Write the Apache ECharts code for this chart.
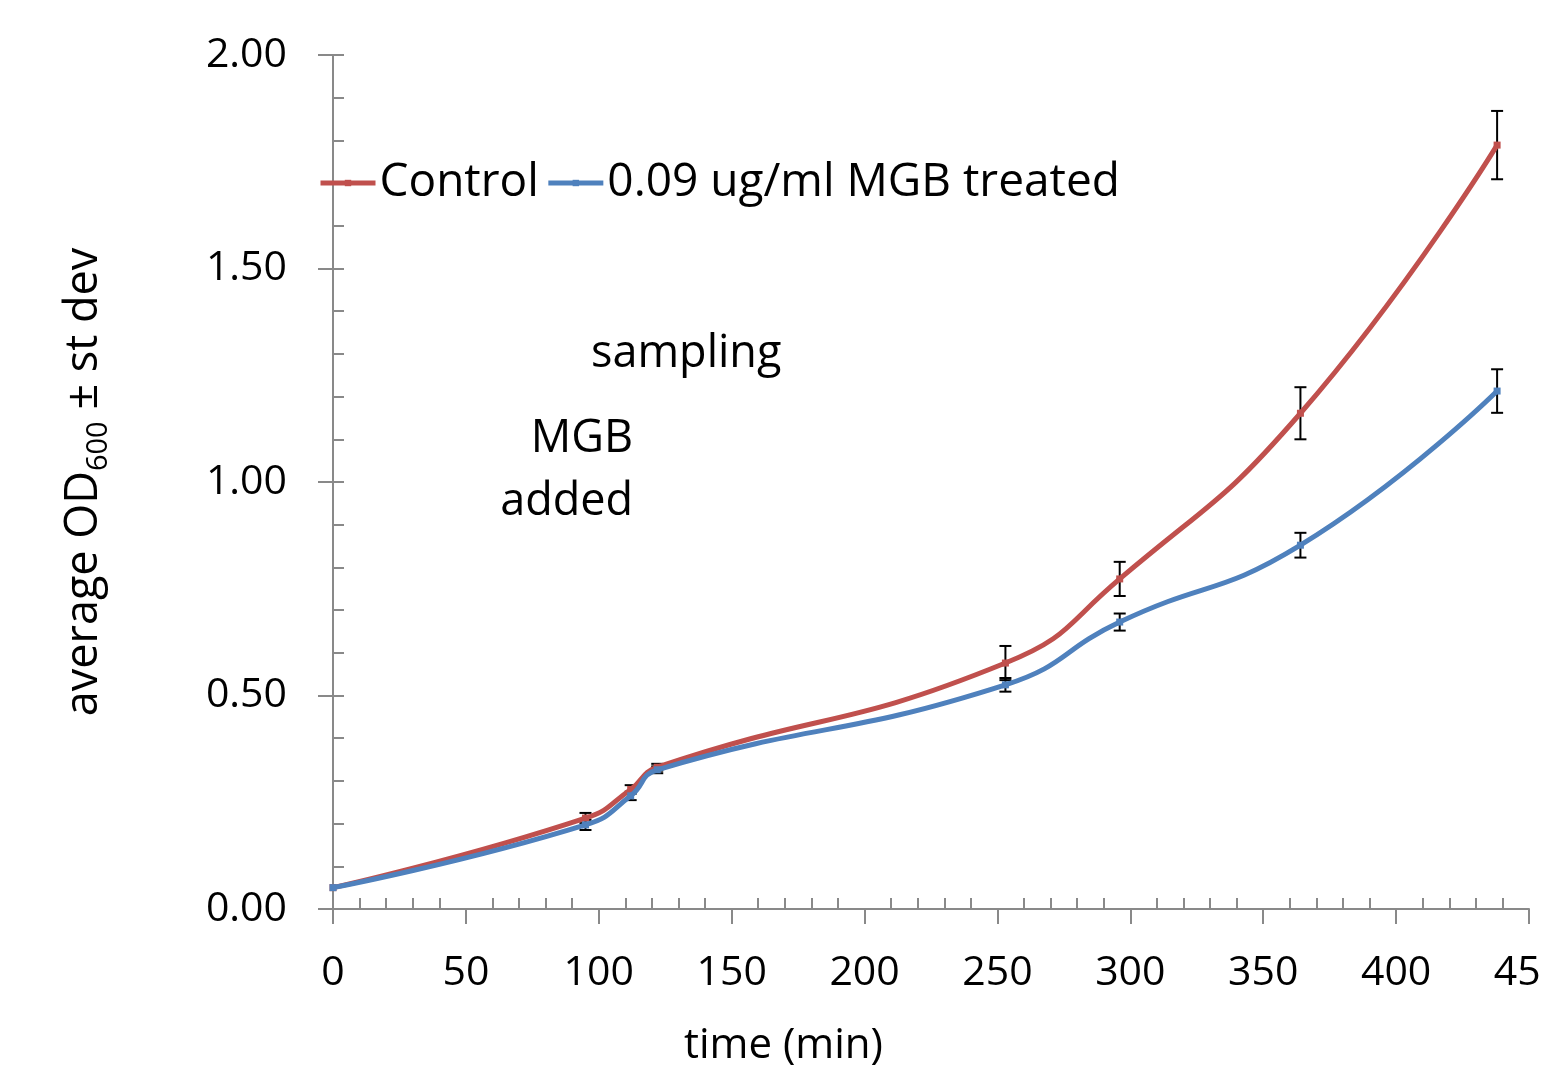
<!DOCTYPE html>
<html>
<head>
<meta charset="utf-8">
<script src="https://cdn.jsdelivr.net/npm/echarts@6/dist/echarts.min.js"></script>
<style>
  html, body { margin: 0; padding: 0; background: #fff; }
  #chart { width: 1541px; height: 1074px; }
</style>
</head>
<body>
<div id="chart"></div>
<script>
// time points (min)
var times = [0, 95, 112, 122, 253, 296, 364, 438]
// average OD600
var control = [0.05, 0.213, 0.28, 0.332, 0.576, 0.773, 1.161, 1.789]
var treated = [0.05, 0.197, 0.265, 0.326, 0.525, 0.672, 0.852, 1.213]
// st dev
var controlErr = [0, 0.012, 0.01, 0.008, 0.04, 0.04, 0.061, 0.08]
var treatedErr = [0, 0.012, 0.01, 0.008, 0.016, 0.02, 0.029, 0.051]
var seriesNames = ['Control', '0.09 ug/ml MGB treated']

var FONT = 'Open Sans'
var AXIS_GRAY = '#898989'

function pairs(ys) {
  return times.map(function (t, i) { return [t, ys[i]] })
}
function errTriples(ys, es) {
  return times.map(function (t, i) { return [t, ys[i], es[i]] })
}

function renderErr(params, api) {
  var x = api.value(0)
  var y = api.value(1)
  var e = api.value(2)
  if (!e) return null
  var top = api.coord([x, y + e])
  var bot = api.coord([x, y - e])
  var cap = 6
  var style = { stroke: '#000', lineWidth: 2 }
  return {
    type: 'group',
    children: [
      { type: 'line', shape: { x1: top[0], y1: top[1], x2: bot[0], y2: bot[1] }, style: style },
      { type: 'line', shape: { x1: top[0] - cap, y1: top[1], x2: top[0] + cap, y2: top[1] }, style: style },
      { type: 'line', shape: { x1: bot[0] - cap, y1: bot[1], x2: bot[0] + cap, y2: bot[1] }, style: style }
    ]
  }
}

var chart = echarts.init(document.getElementById('chart'))
chart.setOption({
  animation: false,
  textStyle: { fontFamily: FONT },
  grid: { left: 333, right: 12, top: 55, bottom: 165, containLabel: false, outerBoundsMode: 'none' },
  legend: {
    left: 318,
    top: 160,
    padding: 0,
    itemWidth: 55,
    itemHeight: 8,
    itemGap: 7,
    data: seriesNames,
    lineStyle: { width: 5 },
    textStyle: { fontFamily: FONT, fontSize: 46, color: '#000', padding: [0, 0, 0, -1] }
  },
  xAxis: [{
    type: 'value',
    min: 0,
    max: 450,
    interval: 50,
    axisLine: { show: true, onZero: false, lineStyle: { color: AXIS_GRAY, width: 2 } },
    axisTick: { show: true, length: 15, lineStyle: { color: AXIS_GRAY, width: 2 } },
    minorTick: { show: true, splitNumber: 5, length: -11, lineStyle: { color: AXIS_GRAY, width: 2 } },
    splitLine: { show: false },
    axisLabel: { fontFamily: FONT, fontSize: 41, color: '#000', margin: 44, showMaxLabel: true, hideOverlap: false }
  }],
  yAxis: [{
    type: 'value',
    min: 0,
    max: 2,
    interval: 0.5,
    axisLine: { show: true, onZero: false, lineStyle: { color: AXIS_GRAY, width: 2 } },
    axisTick: { show: true, length: 15, lineStyle: { color: AXIS_GRAY, width: 2 } },
    minorTick: { show: true, splitNumber: 5, length: -11, lineStyle: { color: AXIS_GRAY, width: 2 } },
    splitLine: { show: false },
    axisLabel: {
      fontFamily: FONT, fontSize: 41, color: '#000', margin: 46,
      formatter: function (v) { return v.toFixed(2) }
    },
    name: '{n|average OD}{s|600}{n| ± st dev}',
    nameLocation: 'middle',
    nameRotate: 90,
    nameGap: 220,
    nameTextStyle: {
      rich: {
        n: { fontFamily: FONT, fontSize: 45, color: '#000', lineHeight: 58 },
        s: { fontFamily: FONT, fontSize: 29, color: '#000', verticalAlign: 'bottom', lineHeight: 58 }
      }
    }
  }, {
    // inner half of the major y ticks
    type: 'value',
    min: 0,
    max: 2,
    interval: 0.5,
    position: 'left',
    axisLine: { show: false },
    axisTick: { show: true, inside: true, length: 11, lineStyle: { color: AXIS_GRAY, width: 2 } },
    axisLabel: { show: false },
    splitLine: { show: false }
  }],
  graphic: [
    { type: 'text', left: 591, top: 332, style: { text: 'sampling', fontFamily: FONT, fontSize: 45, fill: '#000' } },
    { type: 'text', right: 1541 - 633, top: 417, style: { text: 'MGB', fontFamily: FONT, fontSize: 45, fill: '#000' } },
    { type: 'text', right: 1541 - 633, top: 480, style: { text: 'added', fontFamily: FONT, fontSize: 45, fill: '#000' } },
    { type: 'text', left: 684, top: 1025, style: { text: 'time (min)', fontFamily: FONT, fontSize: 42, fill: '#000' } }
  ],
  series: [
    {
      name: 'errControl',
      type: 'custom',
      renderItem: renderErr,
      data: errTriples(control, controlErr),
      z: 1,
      silent: true
    },
    {
      name: 'errTreated',
      type: 'custom',
      renderItem: renderErr,
      data: errTriples(treated, treatedErr),
      z: 1,
      silent: true
    },
    {
      name: seriesNames[0],
      type: 'line',
      data: pairs(control),
      smooth: 0.5,
      symbol: 'rect',
      symbolSize: 7,
      showSymbol: true,
      z: 3,
      lineStyle: { color: '#C0504D', width: 5 },
      itemStyle: { color: '#C0504D' }
    },
    {
      name: seriesNames[1],
      type: 'line',
      data: pairs(treated),
      smooth: 0.5,
      symbol: 'rect',
      symbolSize: 7,
      showSymbol: true,
      z: 4,
      lineStyle: { color: '#4F81BD', width: 5 },
      itemStyle: { color: '#4F81BD' }
    }
  ]
})
</script>
</body>
</html>
